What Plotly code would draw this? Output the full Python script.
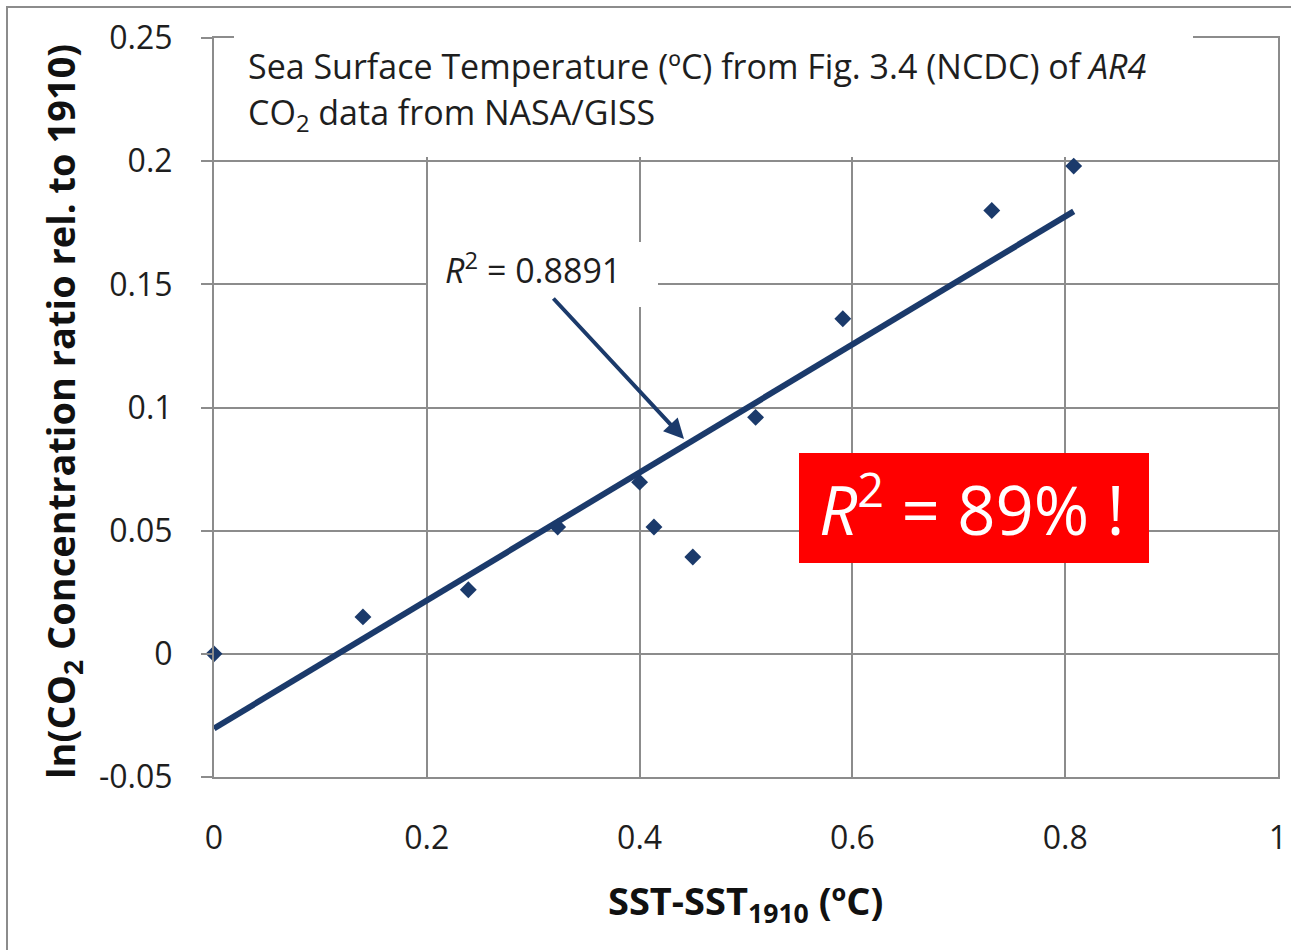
import numpy as np
import plotly.graph_objects as go

# ---- data ----
sst_anomaly = [0.0, 0.140, 0.239, 0.323, 0.400, 0.4135, 0.450, 0.509, 0.591, 0.731, 0.808]
ln_co2_ratio = [0.0, 0.015, 0.026, 0.0515, 0.0697, 0.0515, 0.0393, 0.096, 0.136, 0.180, 0.198]
x_ticks = [0, 0.2, 0.4, 0.6, 0.8, 1]
x_tick_labels = ["0", "0.2", "0.4", "0.6", "0.8", "1"]
y_ticks = [-0.05, 0, 0.05, 0.1, 0.15, 0.2, 0.25]
y_tick_labels = ["-0.05", "0", "0.05", "0.1", "0.15", "0.2", "0.25"]

# linear trend (least squares)
slope, intercept = np.polyfit(sst_anomaly, ln_co2_ratio, 1)
trend_x = [0.0, max(sst_anomaly)]
trend_y = [intercept + slope * v for v in trend_x]

NAVY = "#1B3A6B"
GRID = "#8C8C8C"
FONT = "Open Sans"
TXT = "#1E1E1E"

fig = go.Figure()
fig.add_trace(go.Scatter(x=trend_x, y=trend_y, mode="lines",
                         line=dict(color=NAVY, width=6), hoverinfo="skip",
                         showlegend=False))
fig.add_trace(go.Scatter(x=sst_anomaly, y=ln_co2_ratio, mode="markers",
                         marker=dict(symbol="diamond", size=13, color=NAVY),
                         cliponaxis=False, showlegend=False))

W, H = 1291, 950
L, R, T, B = 214, 13, 38, 173
pw, ph = W - L - R, H - T - B

def px_x(p):
    return (p - L) / pw

def px_y(p):
    return 1 - (p - T) / ph

fig.update_layout(
    width=W, height=H,
    margin=dict(l=L, r=R, t=T, b=B, pad=0, autoexpand=False),
    paper_bgcolor="white", plot_bgcolor="white",
    font=dict(family=FONT, color=TXT),
    xaxis=dict(range=[0, 1], tickvals=x_ticks, ticktext=x_tick_labels,
               showgrid=True, gridcolor=GRID, gridwidth=2,
               showline=True, linecolor=GRID, linewidth=2, mirror=True,
               ticks="", tickfont=dict(size=32, family=FONT, color=TXT),
               zeroline=False, ticklabelstandoff=32, automargin=False),
    yaxis=dict(range=[-0.05, 0.25], tickvals=y_ticks, ticktext=y_tick_labels,
               showgrid=True, gridcolor=GRID, gridwidth=2,
               showline=True, linecolor=GRID, linewidth=2, mirror=True,
               ticks="outside", ticklen=11, tickcolor=GRID, tickwidth=2,
               tickfont=dict(size=32, family=FONT, color=TXT),
               zeroline=False, ticklabelstandoff=22, automargin=False),
)

shapes = [
    # outer chart border
    dict(type="rect", xref="paper", yref="paper",
         x0=px_x(7), x1=px_x(1300), y0=px_y(960), y1=px_y(7),
         line=dict(color=GRID, width=2), fillcolor="rgba(0,0,0,0)", layer="above"),
    # white text box behind header
    dict(type="rect", xref="paper", yref="paper",
         x0=px_x(234), x1=px_x(1193), y0=px_y(157), y1=px_y(25),
         line=dict(width=0), fillcolor="white", layer="above"),
    # white box behind R^2 label
    dict(type="rect", xref="paper", yref="paper",
         x0=px_x(428), x1=px_x(658), y0=px_y(307), y1=px_y(242),
         line=dict(width=0), fillcolor="white", layer="above"),
    # red highlight box
    dict(type="rect", xref="paper", yref="paper",
         x0=px_x(799), x1=px_x(1149), y0=px_y(563), y1=px_y(453),
         line=dict(width=0), fillcolor="#FF0000", layer="above"),
]
fig.update_layout(shapes=shapes)

ann = [
    dict(text="Sea Surface Temperature (ºC) from Fig. 3.4 (NCDC) of <i>AR4</i>",
         xref="paper", yref="paper", x=px_x(246), y=px_y(66),
         xanchor="left", yanchor="middle", showarrow=False,
         font=dict(size=34, family=FONT, color=TXT)),
    dict(text="CO<sub>2</sub> data from NASA/GISS",
         xref="paper", yref="paper", x=px_x(246), y=px_y(114),
         xanchor="left", yanchor="middle", showarrow=False,
         font=dict(size=34, family=FONT, color=TXT)),
    dict(text="<i>R</i><sup>2</sup> = 0.8891",
         xref="paper", yref="paper", x=px_x(533), y=px_y(268),
         xanchor="center", yanchor="middle", showarrow=False,
         font=dict(size=34, family=FONT, color=TXT)),
    dict(text="", xref="x domain", yref="y domain",
         x=px_x(684), y=px_y(439), ax=px_x(552), ay=px_y(297),
         axref="x domain", ayref="y domain", showarrow=True,
         arrowhead=2, arrowsize=1.0, arrowwidth=4, arrowcolor=NAVY),
    dict(text="<i>R</i><sup>2</sup> = 89% !",
         xref="paper", yref="paper", x=px_x(971), y=px_y(506),
         xanchor="center", yanchor="middle", showarrow=False,
         font=dict(size=67, family=FONT, color="white")),
    dict(text="<b>ln(CO<sub>2</sub> Concentration ratio rel. to 1910)</b>",
         xref="paper", yref="paper", x=px_x(62), y=px_y(412),
         xanchor="center", yanchor="middle", textangle=-90, showarrow=False,
         font=dict(size=38, family=FONT, color="#111111")),
    dict(text="<b>SST-SST<sub>1910</sub> (ºC)</b>",
         xref="paper", yref="paper", x=px_x(745), y=px_y(902),
         xanchor="center", yanchor="middle", showarrow=False,
         font=dict(size=38, family=FONT, color="#111111")),
]
fig.update_layout(annotations=ann)

fig.write_html("out.html", config=dict(displayModeBar=False),
               post_script="document.body.style.margin='0';document.body.style.padding='0';")
